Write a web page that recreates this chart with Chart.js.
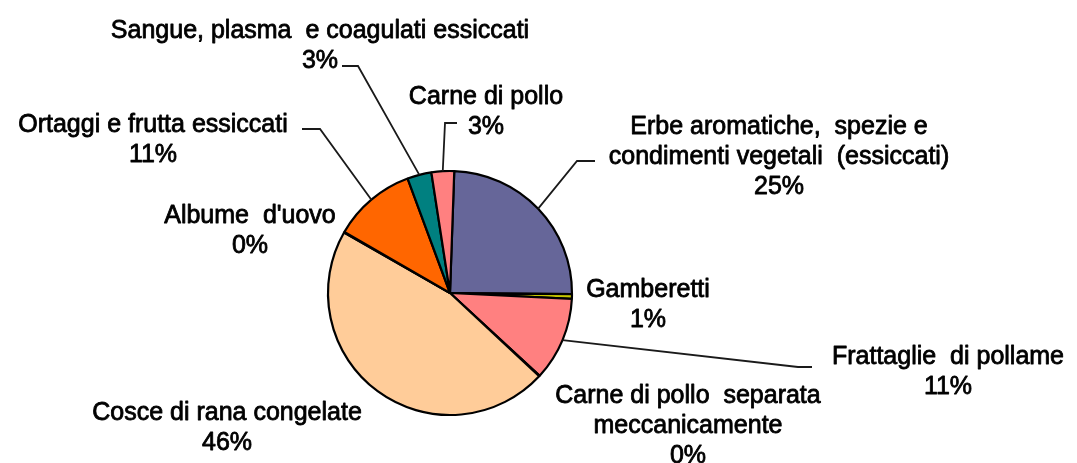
<!DOCTYPE html>
<html>
<head>
<meta charset="utf-8">
<script src="https://cdn.jsdelivr.net/npm/chart.js@4/dist/chart.umd.min.js"></script>
<style>
  html, body { margin: 0; padding: 0; background: #ffffff; }
  #wrap { width: 1077px; height: 463px; }
</style>
</head>
<body>
<div id="wrap"><canvas id="c" width="1077" height="463"></canvas></div>
<script>
// ---- data ----
const categories = [
  "Erbe aromatiche, spezie e condimenti vegetali (essiccati)",
  "Gamberetti",
  "Frattaglie di pollame",
  "Carne di pollo separata meccanicamente",
  "Cosce di rana congelate",
  "Albume d'uovo",
  "Ortaggi e frutta essiccati",
  "Sangue, plasma e coagulati essiccati",
  "Carne di pollo"
];
const shares = [24.6, 0.6, 11.1, 0.1, 46.3, 0.1, 11.0, 3.2, 3.0];
const labelLines = [
  ["Erbe aromatiche,  spezie e", "condimenti vegetali  (essiccati)"],
  ["Gamberetti"],
  ["Frattaglie  di pollame"],
  ["Carne di pollo  separata", "meccanicamente"],
  ["Cosce di rana congelate"],
  ["Albume  d'uovo"],
  ["Ortaggi e frutta essiccati"],
  ["Sangue, plasma  e coagulati essiccati"],
  ["Carne di pollo"]
];
const sliceColors = ["#666699", "#C8C800", "#FF8080", "#FFFFFF", "#FFCC99", "#FFFFFF", "#FF6600", "#008080", "#FF8080"];

// ---- label layout (styling / placement only) ----
const labelLayout = [
  { x: 779, y: 127, leader: [[595, 161], [577, 161]] },
  { x: 648, y: 290, leader: null },
  { x: 948, y: 357, leader: [[812, 367], [798, 367]] },
  { x: 688, y: 396, leader: null },
  { x: 227, y: 413, leader: null },
  { x: 250, y: 216, leader: null },
  { x: 153, y: 125, leader: [[302, 129], [320, 129]] },
  { x: 320, y: 31,  leader: [[342, 66], [358, 66]] },
  { x: 486, y: 97,  leader: [[457, 123], [445, 123]] }
];
const FONT = '25px "Liberation Sans", Arial, sans-serif';
const LINE_H = 30;

const labelPlugin = {
  id: 'pieLabels',
  afterDatasetsDraw(chart) {
    const ctx = chart.ctx;
    const meta = chart.getDatasetMeta(0);
    const data = chart.data.datasets[0].data;
    ctx.save();
    // leader lines
    ctx.strokeStyle = '#1a1a1a';
    ctx.lineWidth = 1.8;
    meta.data.forEach((arc, i) => {
      const lay = labelLayout[i];
      if (!lay.leader) return;
      const p = arc.getProps(['x', 'y', 'startAngle', 'endAngle', 'outerRadius'], true);
      const mid = (p.startAngle + p.endAngle) / 2;
      const ex = p.x + Math.cos(mid) * p.outerRadius;
      const ey = p.y + Math.sin(mid) * p.outerRadius;
      ctx.beginPath();
      ctx.moveTo(lay.leader[0][0], lay.leader[0][1]);
      for (let k = 1; k < lay.leader.length; k++) ctx.lineTo(lay.leader[k][0], lay.leader[k][1]);
      ctx.lineTo(ex, ey);
      ctx.stroke();
    });
    // texts (slightly heavier, like the reference)
    ctx.fillStyle = '#000000';
    ctx.strokeStyle = '#000000';
    ctx.lineWidth = 0.8;
    ctx.lineJoin = 'round';
    ctx.font = FONT;
    ctx.textAlign = 'center';
    ctx.textBaseline = 'middle';
    data.forEach((v, i) => {
      const lay = labelLayout[i];
      const lines = labelLines[i].concat([Math.round(v) + '%']);
      lines.forEach((t, k) => {
        ctx.fillText(t, lay.x, lay.y + k * LINE_H);
        ctx.strokeText(t, lay.x, lay.y + k * LINE_H);
      });
    });
    ctx.restore();
  }
};

new Chart(document.getElementById('c'), {
  type: 'pie',
  data: {
    labels: categories,
    datasets: [{
      data: shares,
      backgroundColor: sliceColors,
      borderColor: '#000000',
      borderWidth: 2.2
    }]
  },
  options: {
    responsive: false,
    animation: false,
    rotation: 2,
    radius: 122,
    layout: { padding: { top: 171, bottom: 48, left: 328, right: 505 } },
    plugins: { legend: { display: false }, tooltip: { enabled: false } }
  },
  plugins: [labelPlugin]
});
</script>
</body>
</html>
